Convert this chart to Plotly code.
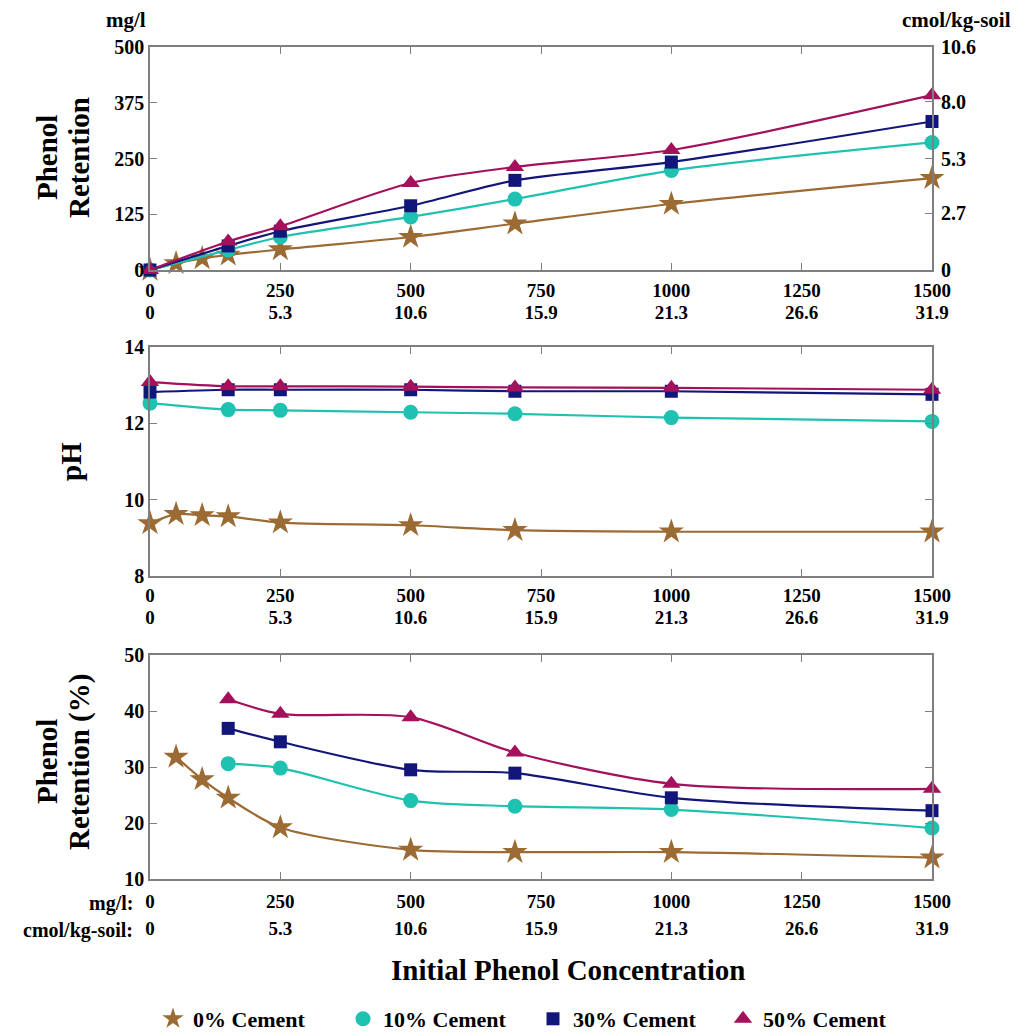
import plotly.graph_objects as go

# ---- data -------------------------------------------------------------
conc_all = [0, 50, 100, 150, 250, 500, 700, 1000, 1500]      # mg/l, 0% cement
conc_mix = [0, 150, 250, 500, 700, 1000, 1500]               # mg/l, cement mixes
conc_pct_all = [50, 100, 150, 250, 500, 700, 1000, 1500]
conc_pct_mix = [150, 250, 500, 700, 1000, 1500]

# phenol retention (mg/l)
ret_0 = [0, 15, 26, 34, 46, 74, 104, 148, 206]
ret_10 = [0, 45, 74, 119, 159, 223, 286]
ret_30 = [0, 54, 87, 144, 201, 242, 333]
ret_50 = [0, 64, 98, 195, 231, 269, 392]

# pH
ph_0 = [9.38, 9.62, 9.59, 9.56, 9.40, 9.33, 9.20, 9.16, 9.16]
ph_10 = [12.53, 12.36, 12.34, 12.29, 12.25, 12.15, 12.05]
ph_30 = [12.82, 12.88, 12.88, 12.88, 12.84, 12.84, 12.76]
ph_50 = [13.08, 12.97, 12.97, 12.96, 12.94, 12.93, 12.88]

# phenol retention (%)
pct_0 = [31.8, 27.8, 24.5, 19.2, 15.2, 14.8, 14.8, 13.8]
pct_10 = [30.6, 29.8, 24.0, 23.0, 22.4, 19.1]
pct_30 = [36.9, 34.5, 29.5, 28.9, 24.5, 22.2]
pct_50 = [42.1, 39.5, 38.9, 32.6, 27.0, 26.1]

series_names = ["0% Cement", "10% Cement", "30% Cement", "50% Cement"]

# axis ticks
x_tickvals = [0, 250, 500, 750, 1000, 1250, 1500]
x_mg_labels = ["0", "250", "500", "750", "1000", "1250", "1500"]
x_cmol_labels = ["0", "5.3", "10.6", "15.9", "21.3", "26.6", "31.9"]
ret_ticks = [0, 125, 250, 375, 500]
ret_cmol_ticks = [0, 2.7, 5.3, 8.0, 10.6]
ret_cmol_labels = ["0", "2.7", "5.3", "8.0", "10.6"]
ph_ticks = [8, 10, 12, 14]
pct_ticks = [10, 20, 30, 40, 50]

# ---- styling ----------------------------------------------------------
W, H = 1019, 1034
FONT = "Liberation Serif, Times New Roman, serif"
AXIS_GREY = "#7f7f7f"
colors = ["#9C6B34", "#1FC1B1", "#12157A", "#A3105C"]
symbols = ["star", "circle", "square", "triangle-up"]
sizes = [19, 15, 13, 16]


def px_x(p):
    return p / W


def px_y(p):
    return 1 - p / H


x_dom = [px_x(150), px_x(932)]
dom1 = [px_y(270), px_y(47)]
dom2 = [px_y(576), px_y(347)]
dom3 = [px_y(879), px_y(655)]

fig = go.Figure()


def add_series(xs, ys, i, xa, ya):
    fig.add_trace(go.Scatter(
        x=xs, y=ys, xaxis=xa, yaxis=ya, mode="lines+markers",
        line=dict(color=colors[i], width=2.2, shape="spline", smoothing=0.8),
        marker=dict(symbol=symbols[i], size=sizes[i], color=colors[i]),
        cliponaxis=False, showlegend=False, name=series_names[i]))


# panel 1: retention (mg/l)
for i, (xs, ys) in enumerate([(conc_all, ret_0), (conc_mix, ret_10),
                              (conc_mix, ret_30), (conc_mix, ret_50)]):
    add_series(xs, ys, i, "x", "y")
# panel 2: pH
for i, (xs, ys) in enumerate([(conc_all, ph_0), (conc_mix, ph_10),
                              (conc_mix, ph_30), (conc_mix, ph_50)]):
    add_series(xs, ys, i, "x2", "y2")
# panel 3: retention (%)
for i, (xs, ys) in enumerate([(conc_pct_all, pct_0), (conc_pct_mix, pct_10),
                              (conc_pct_mix, pct_30), (conc_pct_mix, pct_50)]):
    add_series(xs, ys, i, "x3", "y3")

# empty traces so the secondary unit axes get drawn
for xa, ya in [("x4", "y"), ("x5", "y2"), ("x6", "y3"), ("x", "y4")]:
    fig.add_trace(go.Scatter(x=[None], y=[None], xaxis=xa, yaxis=ya,
                             mode="markers", showlegend=False, hoverinfo="skip"))

# legend entries (marker only)
for i, name in enumerate(series_names):
    fig.add_trace(go.Scatter(
        x=[None], y=[None], mode="markers", name=name,
        marker=dict(symbol=symbols[i], size=sizes[i], color=colors[i]),
        showlegend=True))

tick_font = dict(family=FONT, size=20, color="black", weight="bold")
xtick_font = dict(tick_font, size=19)
frame = dict(showline=True, linecolor=AXIS_GREY, linewidth=1.5, mirror="ticks",
             ticks="inside", ticklen=7, tickwidth=1.3, tickcolor=AXIS_GREY,
             showgrid=False, zeroline=False, tickfont=tick_font)


def x_main(anchor, standoff):
    return dict(frame, domain=x_dom, anchor=anchor, range=[0, 1500],
                tickmode="array", tickvals=x_tickvals, ticktext=x_mg_labels,
                tickfont=xtick_font, ticklabelstandoff=standoff)


def x_second(overlay, anchor, standoff):
    return dict(domain=x_dom, anchor=anchor, overlaying=overlay, side="bottom",
                range=[0, 1500], tickmode="array", tickvals=x_tickvals,
                ticktext=x_cmol_labels, showline=False, showgrid=False,
                zeroline=False, ticks="", tickfont=xtick_font,
                ticklabelstandoff=standoff)


fig.update_layout(
    width=W, height=H, margin=dict(l=0, r=0, t=0, b=0, autoexpand=False),
    plot_bgcolor="white", paper_bgcolor="white",
    font=dict(family=FONT, color="black"),
    xaxis=x_main("y", 2),
    xaxis2=x_main("y2", 1),
    xaxis3=x_main("y3", 4),
    xaxis4=x_second("x", "y", 29),
    xaxis5=x_second("x2", "y2", 28),
    xaxis6=x_second("x3", "y3", 36),
    yaxis=dict(frame, domain=dom1, anchor="x", range=[0, 500],
               tickvals=ret_ticks, mirror=True),
    yaxis4=dict(frame, domain=dom1, anchor="x", overlaying="y", side="right",
                range=[0, 10.6], tickvals=ret_cmol_ticks,
                ticktext=ret_cmol_labels, showline=False, mirror=False,
                ticklabelstandoff=8),
    yaxis2=dict(frame, domain=dom2, anchor="x2", range=[8, 14],
                tickvals=ph_ticks),
    yaxis3=dict(frame, domain=dom3, anchor="x3", range=[10, 50],
                tickvals=pct_ticks),
    legend=dict(orientation="h", x=px_x(153), xanchor="left",
                y=px_y(1019), yanchor="middle", bgcolor="rgba(0,0,0,0)",
                font=dict(family=FONT, size=22, color="black", weight="bold"),
                entrywidth=145, tracegroupgap=0),
)

ann_font = dict(family=FONT, color="black", weight="bold")
annotations = [
    dict(text="mg/l", x=px_x(126), y=px_y(20), font=dict(ann_font, size=21)),
    dict(text="cmol/kg-soil", x=px_x(956), y=px_y(20), font=dict(ann_font, size=21)),
    dict(text="Phenol", x=px_x(47), y=px_y(158), textangle=-90,
         font=dict(ann_font, size=29)),
    dict(text="Retention", x=px_x(79), y=px_y(158), textangle=-90,
         font=dict(ann_font, size=29)),
    dict(text="pH", x=px_x(71), y=px_y(462), textangle=-90,
         font=dict(ann_font, size=29)),
    dict(text="Phenol", x=px_x(47), y=px_y(762), textangle=-90,
         font=dict(ann_font, size=29)),
    dict(text="Retention (%)", x=px_x(79), y=px_y(762), textangle=-90,
         font=dict(ann_font, size=29)),
    dict(text="mg/l:", x=px_x(135), y=px_y(903), xanchor="right",
         font=dict(ann_font, size=20)),
    dict(text="cmol/kg-soil:", x=px_x(135), y=px_y(930), xanchor="right",
         font=dict(ann_font, size=20)),
    dict(text="Initial Phenol Concentration", x=px_x(568), y=px_y(970),
         font=dict(ann_font, size=29)),
]
for a in annotations:
    a.setdefault("xref", "paper")
    a.setdefault("yref", "paper")
    a.setdefault("showarrow", False)
    a.setdefault("xanchor", "center")
    a.setdefault("yanchor", "middle")
fig.update_layout(annotations=annotations)

fig.write_html("out.html")
